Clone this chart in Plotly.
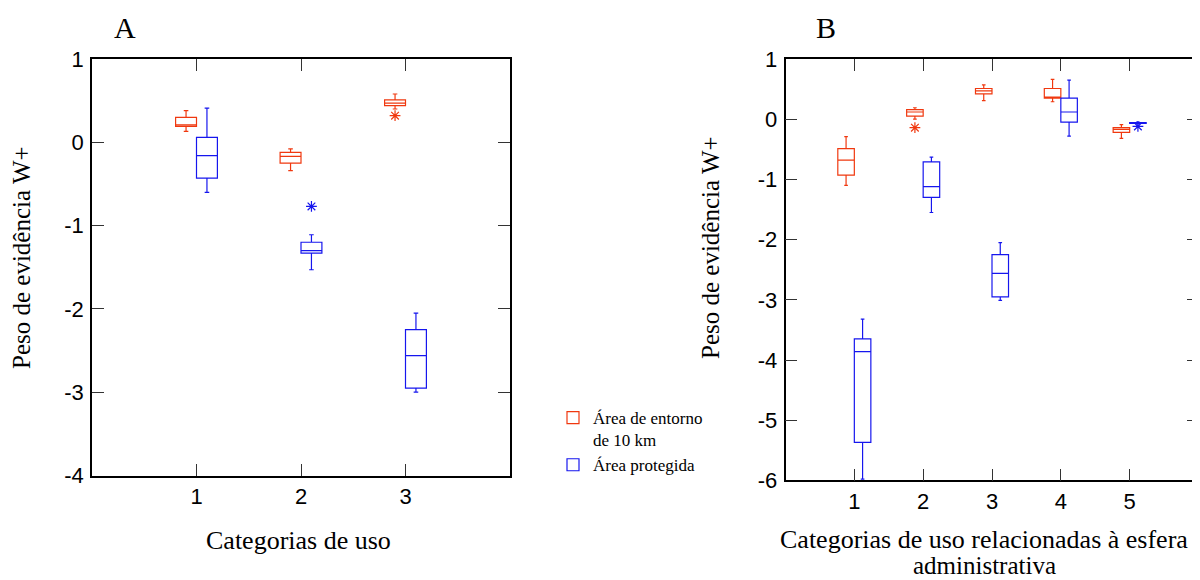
import plotly.graph_objects as go

W, H = 1200, 580

# ---------------- data ----------------
# Panel A: Categorias de uso
cats_a = [1, 2, 3]
red_a_low = [0.13, -0.34, 0.40]
red_a_q1 = [0.19, -0.25, 0.44]
red_a_med = [0.21, -0.17, 0.47]
red_a_q3 = [0.30, -0.12, 0.51]
red_a_high = [0.38, -0.08, 0.58]
red_a_out_x = [3]
red_a_out_y = [0.32]

blue_a_low = [-0.60, -1.53, -3.00]
blue_a_q1 = [-0.43, -1.33, -2.95]
blue_a_med = [-0.16, -1.30, -2.56]
blue_a_q3 = [0.06, -1.20, -2.25]
blue_a_high = [0.41, -1.11, -2.05]
blue_a_out_x = [2]
blue_a_out_y = [-0.77]

# Panel B: Categorias de uso relacionadas à esfera administrativa
cats_b = [1, 2, 3, 4, 5]
red_b_low = [-1.10, 0.00, 0.31, 0.29, -0.32]
red_b_q1 = [-0.93, 0.05, 0.42, 0.35, -0.22]
red_b_med = [-0.68, 0.12, 0.47, 0.36, -0.17]
red_b_q3 = [-0.49, 0.16, 0.51, 0.51, -0.14]
red_b_high = [-0.29, 0.19, 0.57, 0.66, -0.09]
red_b_out_x = [2]
red_b_out_y = [-0.14]

blue_b_low = [-5.98, -1.55, -3.01, -0.28, -0.08]
blue_b_q1 = [-5.37, -1.30, -2.95, -0.05, -0.07]
blue_b_med = [-3.86, -1.12, -2.56, 0.12, -0.06]
blue_b_q3 = [-3.65, -0.71, -2.25, 0.35, -0.055]
blue_b_high = [-3.32, -0.63, -2.05, 0.65, -0.05]
blue_b_out_x = [5]
blue_b_out_y = [-0.12]

ytick_a_vals = [1, 0, -1, -2, -3, -4]
ytick_a_text = ["1", "0", "-1", "-2", "-3", "-4"]
ytick_b_vals = [1, 0, -1, -2, -3, -4, -5, -6]
ytick_b_text = ["1", "0", "-1", "-2", "-3", "-4", "-5", "-6"]

names = ["Área de entorno<br>de 10 km", "Área protegida"]

RED = "#f0380f"
BLUE = "#1616ee"
SERIF = "Liberation Serif"
SANS = "Liberation Sans"

fig = go.Figure()


def add_boxes(cats, off, width, low, q1, med, q3, high, color, name, xa, ya, show):
    fig.add_trace(go.Box(
        x=[c + off for c in cats], lowerfence=low, q1=q1, median=med, q3=q3,
        upperfence=high, width=width, whiskerwidth=0.22, boxpoints=False,
        line=dict(color=color, width=1.2), fillcolor="rgba(0,0,0,0)",
        name=name, legendgroup=name, showlegend=show, xaxis=xa, yaxis=ya,
        hoverinfo="skip"))


def add_out(xs, off, ys, color, name, xa, ya):
    fig.add_trace(go.Scatter(
        x=[v + off for v in xs], y=ys, mode="markers",
        marker=dict(symbol="asterisk-open", size=9, color=color,
                    line=dict(color=color, width=1.2)),
        name=name, legendgroup=name, showlegend=False, xaxis=xa, yaxis=ya))


oa, wa = 0.1, 0.2
ob, wb = 0.12, 0.24
add_boxes(cats_a, -oa, wa, red_a_low, red_a_q1, red_a_med, red_a_q3, red_a_high, RED, names[0], "x", "y", True)
add_boxes(cats_a, oa, wa, blue_a_low, blue_a_q1, blue_a_med, blue_a_q3, blue_a_high, BLUE, names[1], "x", "y", True)
add_out(red_a_out_x, -oa, red_a_out_y, RED, names[0], "x", "y")
add_out(blue_a_out_x, oa, blue_a_out_y, BLUE, names[1], "x", "y")

add_boxes(cats_b, -ob, wb, red_b_low, red_b_q1, red_b_med, red_b_q3, red_b_high, RED, names[0], "x2", "y2", False)
add_boxes(cats_b, ob, wb, blue_b_low, blue_b_q1, blue_b_med, blue_b_q3, blue_b_high, BLUE, names[1], "x2", "y2", False)
add_out(red_b_out_x, -ob, red_b_out_y, RED, names[0], "x2", "y2")
add_out(blue_b_out_x, ob, blue_b_out_y, BLUE, names[1], "x2", "y2")

OFF = 8  # page body margin


def px_x(p):
    return (p - OFF) / W


def px_y(p):
    return 1 - (p - OFF) / H


axis_common = dict(
    showline=True, linecolor="black", linewidth=1.5, mirror="ticks",
    ticks="inside", ticklen=12, tickwidth=1.3, tickcolor="#333",
    showgrid=False, zeroline=False, automargin=False,
    tickfont=dict(family=SANS, size=22, color="black"),
)

fig.update_layout(
    width=W, height=H, margin=dict(l=0, r=0, t=0, b=0, pad=0, autoexpand=False),
    paper_bgcolor="white", plot_bgcolor="white",
    boxmode="overlay",
    xaxis=dict(domain=[px_x(92), px_x(510)], range=[0, 4], tickvals=cats_a,
               ticktext=[str(c) for c in cats_a], anchor="y",
               ticklabelstandoff=0, **axis_common),
    yaxis=dict(domain=[px_y(475.5), px_y(59)], range=[-4, 1], tickvals=ytick_a_vals,
               ticktext=ytick_a_text, anchor="x", ticklabelstandoff=2, **axis_common),
    xaxis2=dict(domain=[px_x(785.5), px_x(1198.5)], range=[0, 6], tickvals=cats_b,
                ticktext=[str(c) for c in cats_b], anchor="y2",
                ticklabelstandoff=0, **axis_common),
    yaxis2=dict(domain=[px_y(480.4), px_y(59)], range=[-6, 1], tickvals=ytick_b_vals,
                ticktext=ytick_b_text, anchor="x2", ticklabelstandoff=2, **axis_common),
    legend=dict(x=px_x(553), y=px_y(400), xanchor="left", yanchor="top",
                font=dict(family=SERIF, size=17, color="black"),
                bgcolor="rgba(0,0,0,0)", valign="top", tracegroupgap=0,
                itemwidth=30),
    showlegend=True,
)

ann = [
    dict(text="A", x=px_x(125), y=px_y(27), font=dict(family=SERIF, size=30)),
    dict(text="B", x=px_x(826), y=px_y(27), font=dict(family=SERIF, size=30)),
    dict(text="Peso de evidência W+", x=px_x(22), y=px_y(258), textangle=-90,
         font=dict(family=SERIF, size=25)),
    dict(text="Peso de evidência W+", x=px_x(711), y=px_y(248), textangle=-90,
         font=dict(family=SERIF, size=25)),
    dict(text="Categorias de uso", x=px_x(298), y=px_y(540),
         font=dict(family=SERIF, size=26)),
    dict(text="Categorias de uso relacionadas à esfera", x=px_x(984), y=px_y(539),
         font=dict(family=SERIF, size=26)),
    dict(text="administrativa", x=px_x(984), y=px_y(565),
         font=dict(family=SERIF, size=25)),
]
for a in ann:
    a.update(xref="paper", yref="paper", xanchor="center", yanchor="middle",
             showarrow=False)
    a["font"]["color"] = "black"
    fig.add_annotation(**a)

fig.write_html("out.html")
